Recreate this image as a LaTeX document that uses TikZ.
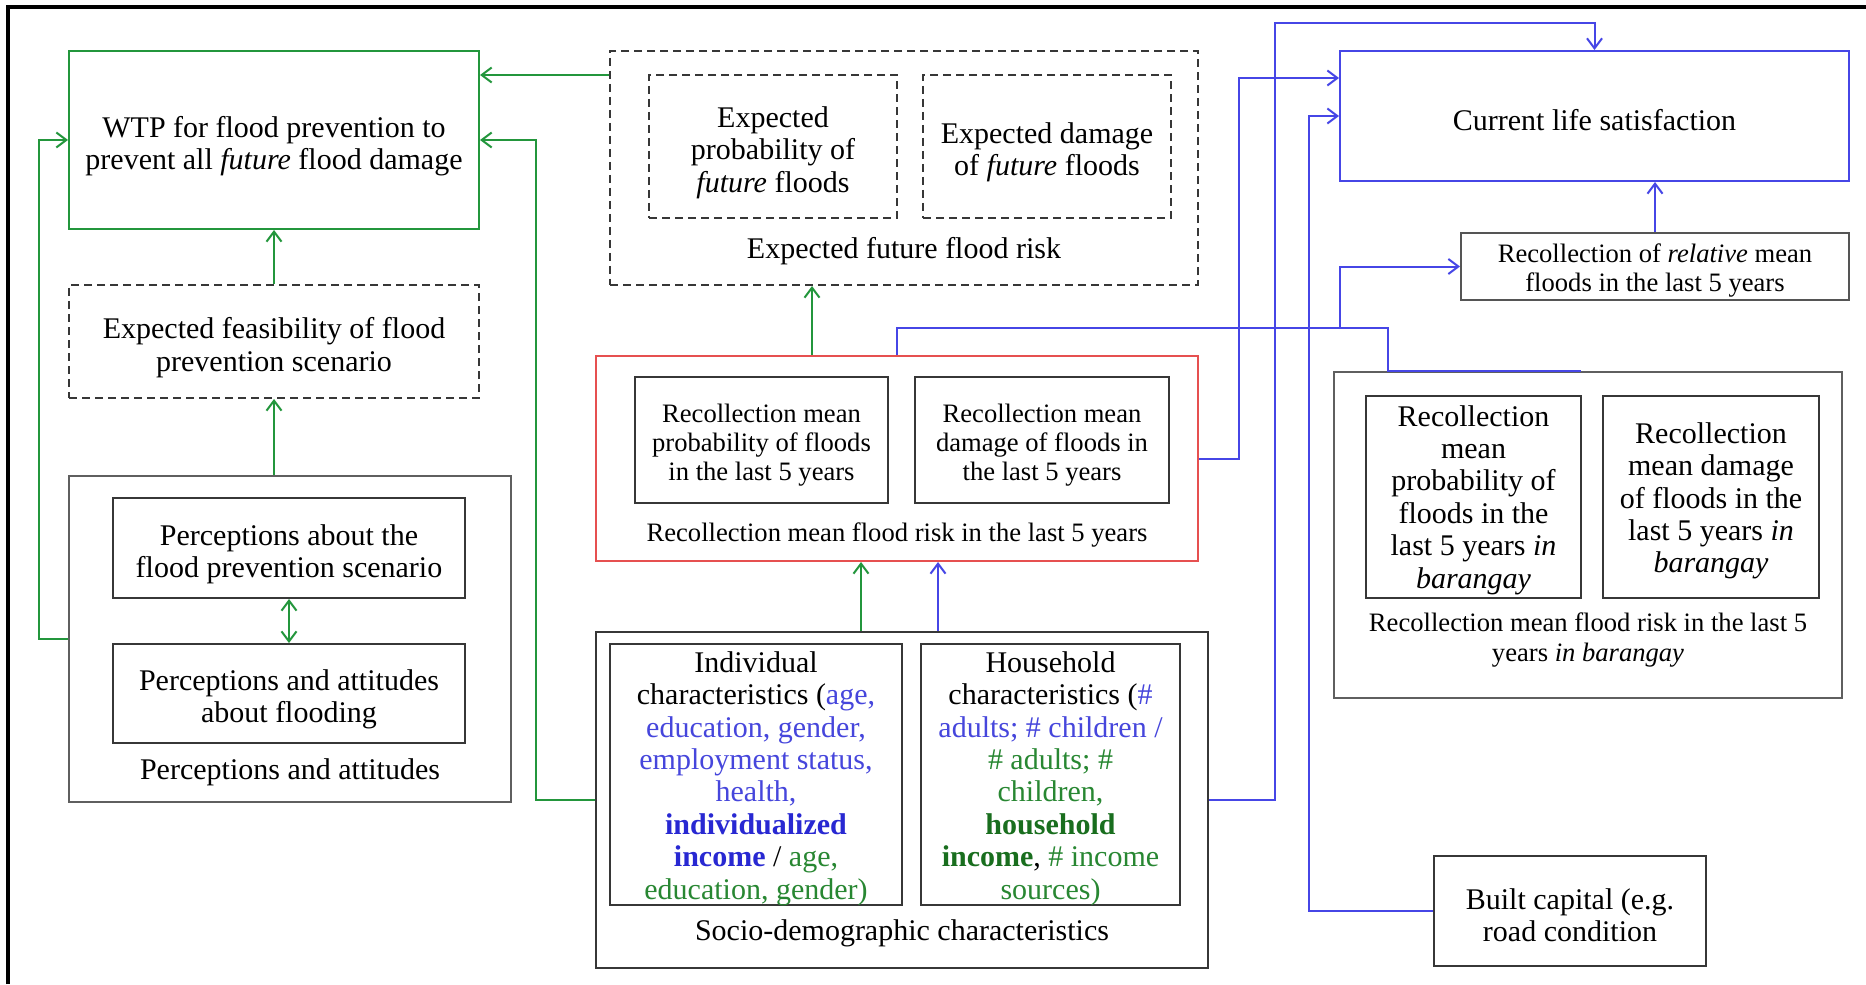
\documentclass[tikz,border=0pt]{standalone}
\usepackage{fontspec}
\setmainfont{Liberation Serif}
\usetikzlibrary{arrows.meta,fit,calc}
\definecolor{gline}{RGB}{35,150,60}
\definecolor{bline}{RGB}{70,70,230}
\definecolor{rline}{RGB}{230,80,80}
\definecolor{boxc}{RGB}{55,55,55}
\definecolor{tblue}{RGB}{70,70,220}
\definecolor{tbblue}{RGB}{40,40,210}
\definecolor{tgreen}{RGB}{40,135,50}
\definecolor{tbgreen}{RGB}{25,110,30}
\newcommand{\fmain}{\fontsize{15pt}{16.2pt}\selectfont}
\newcommand{\fsmall}{\fontsize{13.3pt}{14.6pt}\selectfont}
\newcommand{\tb}[1]{\textcolor{tblue}{#1}}
\newcommand{\tbb}[1]{\textcolor{tbblue}{\textbf{#1}}}
\newcommand{\tg}[1]{\textcolor{tgreen}{#1}}
\newcommand{\tbg}[1]{\textcolor{tbgreen}{\textbf{#1}}}
\tikzset{
  bx/.style={draw=boxc, line width=1pt, inner sep=0pt},
  dbx/.style={bx, dash pattern=on 4pt off 2.5pt},
  lab/.style={inner sep=0pt, align=center, font=\fmain},
  slab/.style={lab, font=\fsmall},
  ga/.style={draw=gline, line width=1pt, -{Straight Barb[length=5pt,width=7.5pt]}},
  gda/.style={draw=gline, line width=1pt, {Straight Barb[length=5pt,width=7.5pt]}-{Straight Barb[length=5pt,width=7.5pt]}},
  ba/.style={draw=bline, line width=1pt, -{Straight Barb[length=5pt,width=7.5pt]}},
  bl/.style={draw=bline, line width=1pt},
}
\begin{document}
\begin{tikzpicture}[x=0.5pt,y=-0.5pt]
\useasboundingbox (0,0) rectangle (1866,984);
\fill[white] (0,0) rectangle (1866,984);
\draw[line width=1.6pt, black] (8,984) -- (8,7) -- (1866,7);

% left column
\node[bx, draw=gline, fit={(69,51) (479,229)}] (wtp) {};
\node[lab] (wtpt) at ([yshift=-3pt]wtp.center) {WTP for flood prevention to\\ prevent all \textit{future} flood damage};
\node[dbx, fit={(69,285) (479,398)}] (feas) {};
\node[lab] (feast) at ([yshift=-3pt]feas.center) {Expected feasibility of flood\\ prevention scenario};
\node[bx, draw=boxc!80, fit={(69,476) (511,802)}] (perc) {};
\node[bx, fit={(113,498) (465,598)}] (perc1) {};
\node[lab] (perc1t) at ([yshift=-3pt]perc1.center) {Perceptions about the\\ flood prevention scenario};
\node[bx, fit={(113,644) (465,743)}] (perc2) {};
\node[lab] (perc2t) at ([yshift=-3pt]perc2.center) {Perceptions and attitudes\\ about flooding};
\node[lab] (perclab) at (290,772) {Perceptions and attitudes};

% expected future flood risk
\node[dbx, fit={(610,51) (1198,285)}] (efr) {};
\node[dbx, fit={(649,75) (897,218)}] (efr1) {};
\node[lab] (efr1t) at ([yshift=-3pt]efr1.center) {Expected\\ probability of\\ \textit{future} floods};
\node[dbx, fit={(923,75) (1171,218)}] (efr2) {};
\node[lab] (efr2t) at ([yshift=-3pt]efr2.center) {Expected damage\\ of \textit{future} floods};
\node[lab] (efrlab) at (904,251) {Expected future flood risk};

% recollection mean flood risk
\node[bx, draw=rline, fit={(596,356) (1198,561)}] (red) {};
\node[bx, fit={(635,377) (888,503)}] (red1) {};
\node[slab] (red1t) at ([yshift=-2.5pt]red1.center) {Recollection mean\\ probability of floods\\ in the last 5 years};
\node[bx, fit={(915,377) (1169,503)}] (red2) {};
\node[slab] (red2t) at ([yshift=-2.5pt]red2.center) {Recollection mean\\ damage of floods in\\ the last 5 years};
\node[slab] (redlab) at (897,535) {Recollection mean flood risk in the last 5 years};

% socio-demographic
\node[bx, fit={(596,632) (1208,968)}] (socio) {};
\node[bx, fit={(610,644) (902,905)}] (socio1) {};
\node[lab] (socio1t) at ([yshift=-2pt]socio1.center) {Individual\\ characteristics (\tb{age,}\\ \tb{education, gender,}\\ \tb{employment status,}\\ \tb{health,}\\ \tbb{individualized}\\ \tbb{income} / \tg{age,}\\ \tg{education, gender)}};
\node[bx, fit={(921,644) (1180,905)}] (socio2) {};
\node[lab] (socio2t) at ([yshift=-2pt]socio2.center) {Household\\ characteristics (\tb{\#}\\ \tb{adults; \# children /}\\ \tg{\# adults; \#}\\ \tg{children,}\\ \tbg{household}\\ \tbg{income}, \tg{\# income}\\ \tg{sources)}};
\node[lab] (sociolab) at (902,933) {Socio-demographic characteristics};

% right column
\node[bx, draw=bline, fit={(1340,51) (1849,181)}] (cls) {};
\node[lab] (clst) at ([yshift=-2pt]cls.center) {Current life satisfaction};
\node[bx, draw=boxc!85, fit={(1461,233) (1849,300)}] (rel) {};
\node[slab] (relt) at ([yshift=-2pt]rel.center) {Recollection of \textit{relative} mean\\ floods in the last 5 years};
\node[bx, draw=boxc!80, fit={(1334,372) (1842,698)}] (bar) {};
\node[bx, fit={(1366,396) (1581,598)}] (bar1) {};
\node[lab] (bar1t) at ([yshift=-1.5pt]bar1.center) {Recollection\\ mean\\ probability of\\ floods in the\\ last 5 years \textit{in}\\ \textit{barangay}};
\node[bx, fit={(1603,396) (1819,598)}] (bar2) {};
\node[lab] (bar2t) at ([yshift=-2pt]bar2.center) {Recollection\\ mean damage\\ of floods in the\\ last 5 years \textit{in}\\ \textit{barangay}};
\node[slab] (barlab) at (1588,640) {Recollection mean flood risk in the last 5\\ years \textit{in barangay}};
\node[bx, fit={(1434,856) (1706,966)}] (built) {};
\node[lab] (builtt) at ([yshift=-2pt]built.center) {Built capital (e.g.\\ road condition};

% green connectors
\draw[ga] ([yshift=-12.5pt]efr.north west) -- ([yshift=-12.5pt]efr.north west -| wtp.east);
\draw[ga] (feas.north) -- (wtp.south);
\draw[ga] (perc.north -| feas.south) -- (feas.south);
\draw[gda] (perc1.south) -- (perc2.north);
\draw[ga] (perc.west) -- ++(-29,0) |- (wtp.west);
\draw[ga] (socio.west) -- ++(-59,0) |- (wtp.east);
\draw[ga] ([xshift=-42.5pt]red.north) -- ([xshift=-42.5pt]red.north |- efr.south);
\draw[ga] ([xshift=-20.5pt]socio.north) -- ([xshift=-20.5pt]socio.north |- red.south);

% blue connectors
\draw[ba] ([xshift=18pt]socio.north) -- ([xshift=18pt]socio.north |- red.south);
\draw[ba] (red.east) -- ++(40,0) |- ([yshift=-14pt]cls.north west);
\draw[ba] (built.west) -- ++(-124,0) |- (cls.west);
\draw[ba] (socio.east) -- ++(66,0) |- ([yshift=13.5pt]cls.north) -- (cls.north);
\draw[ba] (rel.north) -- (rel.north |- cls.south);
\draw[bl] (red.north) -- ++(0,-27) -| ([xshift=27.5pt]bar.north west) -- ([xshift=124pt]bar.north west);
\coordinate (j) at (1340,329);
\draw[ba] (j) |- (rel.west);
\end{tikzpicture}
\end{document}
